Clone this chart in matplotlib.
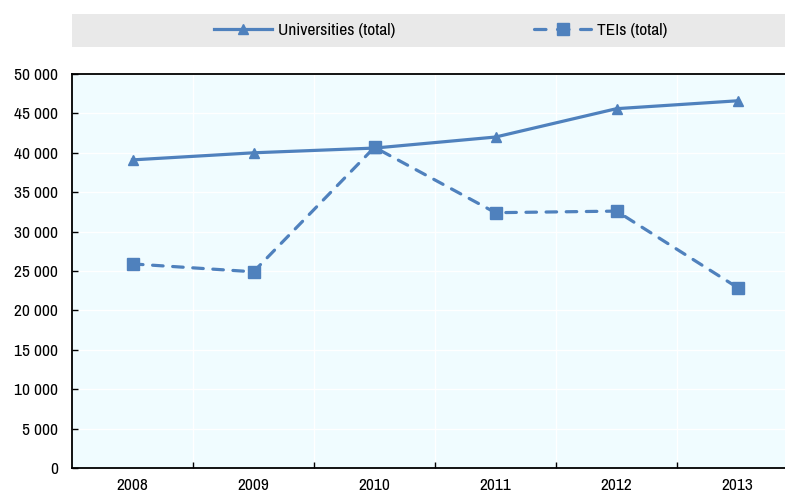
import matplotlib
matplotlib.use("Agg")
import matplotlib.pyplot as plt
from matplotlib.ticker import FuncFormatter, FixedLocator
from matplotlib.patches import Rectangle
from matplotlib.lines import Line2D

years = ["2008", "2009", "2010", "2011", "2012", "2013"]
universities = [39100, 40000, 40600, 42000, 45600, 46600]
teis = [25900, 24900, 40700, 32400, 32600, 22900]
series_labels = ["Universities (total)", "TEIs (total)"]
yticks = [0, 5000, 10000, 15000, 20000, 25000, 30000, 35000, 40000, 45000, 50000]

plt.rcParams['font.family'] = ['Archivo Narrow', 'Liberation Sans', 'DejaVu Sans']
color = "#4F81BD"
fs = 12.5
lw = 2.3
dash = (0, (3.3, 3.0))

W, H = 785, 493
fig = plt.figure(figsize=(W / 100, H / 100), dpi=100)
left, right, top, bottom = 72, 798, 74, 468
ax = fig.add_axes([left / W, 1 - bottom / H, (right - left) / W, (bottom - top) / H])
ax.set_facecolor("#F0FCFF")

x = list(range(len(years)))
ax.plot(x, universities, color=color, lw=lw, marker="^", ms=7, label=series_labels[0], zorder=3)
ax.plot(x, teis, color=color, lw=lw, ls=dash, dash_capstyle="round", marker="s", ms=8.5,
        label=series_labels[1], zorder=3)

ax.set_xlim(-0.5, len(years) - 0.5)
ax.set_ylim(0, 50000)
ax.set_xticks(x)
ax.set_xticklabels(years)
ax.xaxis.set_minor_locator(FixedLocator([i + 0.5 for i in range(len(years) - 1)]))
ax.set_yticks(yticks)
ax.yaxis.set_major_formatter(FuncFormatter(lambda v, p: f"{int(v):,}".replace(",", " ")))

ax.tick_params(axis="x", which="major", length=0, labelsize=fs, pad=7)
ax.tick_params(axis="x", which="minor", direction="in", length=4, width=1, color="black")
ax.tick_params(axis="y", direction="in", length=4, width=1, labelsize=fs, pad=10)

ax.grid(axis="y", color="white", lw=1)
ax.grid(axis="x", which="minor", color="white", lw=1)
ax.set_axisbelow(True)

for s in ["left", "bottom", "top"]:
    ax.spines[s].set_color("black")
    ax.spines[s].set_linewidth(1.3)
ax.spines["right"].set_visible(False)

# Legend band
fig.patches.append(Rectangle((72 / W, 1 - 47 / H), (785 - 72) / W, (47 - 14) / H,
                             transform=fig.transFigure, facecolor="#E9E9E9", edgecolor="none", zorder=0))
h1 = Line2D([], [], color=color, lw=lw, marker="^", ms=7)
h2 = Line2D([], [], color=color, lw=lw, ls=(0, (3.6, 3.6)), dash_capstyle="round", marker="s", ms=8.5)
fig.legend([h1, h2], series_labels, loc="center", bbox_to_anchor=(441 / W, 1 - 30.5 / H),
           ncol=2, frameon=False, fontsize=fs, handlelength=3.3, columnspacing=8.0, handletextpad=0.35)

fig.savefig("out.png", dpi=100)
